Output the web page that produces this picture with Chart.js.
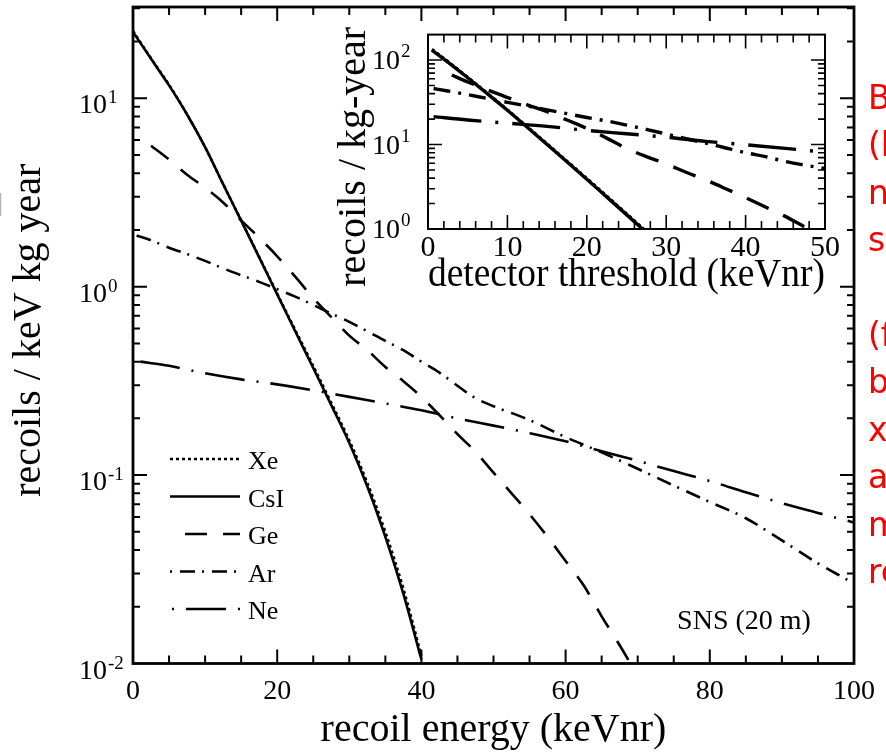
<!DOCTYPE html>
<html>
<head>
<meta charset="utf-8">
<script src="https://cdn.jsdelivr.net/npm/chart.js@4.4.1/dist/chart.umd.min.js"></script>
<style>
  html, body { margin: 0; padding: 0; background: #fff; }
  #wrap { position: relative; width: 886px; height: 754px; overflow: hidden; background: #fff; }
  #main { position: absolute; left: 0; top: 0; }
  #inset { position: absolute; left: 330px; top: 20px; }
</style>
</head>
<body>
<div id="wrap">
  <canvas id="main" width="886" height="754"></canvas>
  <canvas id="inset" width="530" height="290"></canvas>
</div>
<script>
// ---- main panel: recoils / keV kg year vs recoil energy ----
const csiEnergy = [0, 2.5, 5, 7.5, 10, 12.5, 15, 17.5, 20, 22.5, 25, 27.5, 30, 32.5, 35, 37.5, 40];
const csiRate = [22.5, 16.2, 11.7, 8.2, 5.5, 3.5, 2.24, 1.43, 0.91, 0.58, 0.37, 0.235, 0.148, 0.087, 0.047, 0.0234, 0.0105];
const xeEnergy = [0, 2.5, 5, 7.5, 10, 12.5, 15, 17.5, 20, 22.5, 25, 27.5, 30, 32.5, 35, 37.5, 40];
const xeRate = [22.8, 16.3, 11.8, 8.2, 5.5, 3.5, 2.25, 1.44, 0.92, 0.59, 0.38, 0.242, 0.153, 0.091, 0.050, 0.0250, 0.0110];
const geEnergy = [2.5, 5, 7.5, 10, 12.5, 15, 17.5, 20, 22.5, 25, 27.5, 30, 32.5, 35, 37.5, 40, 42.5, 45, 47.5, 50, 52.5, 55, 57.5, 60, 62.5, 65, 67.5, 69];
const geRate = [5.6, 4.73, 3.93, 3.35, 2.8, 2.25, 1.82, 1.45, 1.13, 0.87, 0.69, 0.55, 0.46, 0.375, 0.315, 0.26, 0.208, 0.165, 0.133, 0.103, 0.08, 0.062, 0.047, 0.035, 0.026, 0.0178, 0.0125, 0.0100];
const arEnergy = [0.5, 2.5, 5, 7.5, 10, 12.5, 15, 17.5, 20, 22.5, 25, 27.5, 30, 32.5, 35, 37.5, 40, 42.5, 45, 47.5, 50, 55, 60, 65, 70, 75, 80, 85, 90, 95, 100];
const arRate = [1.87, 1.76, 1.61, 1.49, 1.37, 1.25, 1.15, 1.06, 0.97, 0.885, 0.80, 0.72, 0.65, 0.58, 0.515, 0.46, 0.40, 0.35, 0.298, 0.256, 0.232, 0.196, 0.159, 0.132, 0.108, 0.088, 0.072, 0.059, 0.045, 0.034, 0.0266];
const neEnergy = [1, 5, 10, 15, 20, 25, 30, 35, 40, 45, 50, 55, 60, 65, 70, 75, 80, 85, 90, 95, 100];
const neRate = [0.40, 0.380, 0.347, 0.322, 0.303, 0.282, 0.26, 0.240, 0.221, 0.20, 0.183, 0.167, 0.151, 0.134, 0.119, 0.105, 0.093, 0.081, 0.071, 0.063, 0.056];

const mainXTicks = [0, 20, 40, 60, 80, 100];
const mainYDecades = [-2, -1, 0, 1];

// ---- inset: recoils / kg-year above detector threshold ----
const xeThr = [0.5, 2.5, 5, 7.5, 10, 12.5, 15, 17.5, 20, 22.5, 25, 27.5];
const xeCount = [134, 96, 62.5, 40.3, 25.7, 16.2, 10.2, 6.35, 3.97, 2.46, 1.52, 0.94];
const csiThr = [0.5, 2.5, 5, 7.5, 10, 12.5, 15, 17.5, 20, 22.5, 25, 27.5];
const csiCount = [131, 94.4, 61.7, 39.8, 25.4, 16.0, 10.0, 6.24, 3.89, 2.40, 1.48, 0.91];
const geThr = [3, 5, 7.5, 10, 12.5, 15, 17.5, 20, 22.5, 25, 27.5, 30, 32.5, 35, 37.5, 40, 42.5, 45, 47.5];
const geCount = [66.4, 55, 44.2, 36, 29.5, 24.5, 19.5, 15.5, 11.9, 9.0, 7.2, 5.9, 4.7, 3.8, 3.0, 2.35, 1.82, 1.41, 1.05];
const arThr = [0.7, 2.5, 5, 7.5, 10, 12.5, 15, 17.5, 20, 22.5, 25, 27.5, 30, 32.5, 35, 37.5, 40, 42.5, 45, 47.5, 50];
const arCount = [46, 43, 39, 35, 31.6, 28.6, 25.7, 23.2, 20.9, 19.0, 17, 15.1, 13.3, 11.7, 10.4, 9.1, 8.0, 7.2, 6.3, 5.7, 5.2];
const neThr = [0.7, 5, 10, 15, 20, 25, 30, 35, 40, 45, 50];
const neCount = [21.4, 19.5, 17.9, 16.4, 14.7, 13.4, 12.2, 10.9, 9.95, 9.0, 8.1];

const insetXTicks = [0, 10, 20, 30, 40, 50];
const insetYDecades = [0, 1, 2];

const seriesNames = ['Xe', 'CsI', 'Ge', 'Ar', 'Ne'];
const sideNote = ['B', '(l', 'n', 's', '', '(f', 'b', 'x', 'a', 'm', 're'];

const serif = '"Liberation Serif", "Times New Roman", serif';
Chart.defaults.color = '#000';
Chart.defaults.font.family = serif;

function pts(xs, ys) {
    return xs.map((x, i) => ({ x: x, y: ys[i] }));
}

function curve(label, xs, ys, dash, width) {
    return {
        label: label,
        data: pts(xs, ys),
        borderColor: '#000',
        borderWidth: width,
        borderDash: dash,
        pointRadius: 0,
        fill: false,
        cubicInterpolationMode: 'monotone'
    };
}

// inward ticks, frame and 10^n labels
const axisFrame = {
    id: 'axisFrame',
    afterDatasetsDraw(chart, args, o) {
        const { ctx, chartArea: a } = chart;
        const x = chart.scales.x, y = chart.scales.y;
        ctx.save();
        ctx.strokeStyle = '#000';
        ctx.lineWidth = o.tickWidth;
        ctx.setLineDash([]);
        ctx.beginPath();
        for (let v = x.min + o.xMinor; v < x.max - 1e-6; v += o.xMinor) {
            const px = x.getPixelForValue(v);
            const len = (Math.round(v) % o.xMajor === 0) ? o.majorLen : o.minorLen;
            ctx.moveTo(px, a.bottom); ctx.lineTo(px, a.bottom - len);
            ctx.moveTo(px, a.top); ctx.lineTo(px, a.top + len);
        }
        const e0 = Math.floor(Math.log10(y.min)), e1 = Math.ceil(Math.log10(y.max));
        for (let e = e0; e <= e1; e++) {
            for (let m = 1; m < 10; m++) {
                const v = m * Math.pow(10, e);
                if (v <= y.min * 1.0001 || v >= y.max * 0.9999) continue;
                const py = y.getPixelForValue(v);
                const len = m === 1 ? o.majorLen : o.yMinorLen;
                ctx.moveTo(a.left, py); ctx.lineTo(a.left + len, py);
                ctx.moveTo(a.right, py); ctx.lineTo(a.right - len, py);
            }
        }
        ctx.stroke();
        ctx.lineWidth = o.frameWidth;
        ctx.strokeRect(a.left, a.top, a.right - a.left, a.bottom - a.top);

        ctx.fillStyle = '#000';
        ctx.textBaseline = 'alphabetic';
        o.decades.forEach(d => {
            const py = y.getPixelForValue(Math.pow(10, d));
            ctx.font = o.labelSize + 'px ' + serif;
            ctx.textAlign = 'right';
            ctx.fillText('10', a.left - o.labelGap, py + o.baseShift);
            ctx.font = o.supSize + 'px ' + serif;
            ctx.textAlign = 'left';
            ctx.fillText(String(d), a.left - o.labelGap + 1, py + o.supShift);
        });
        ctx.restore();
    }
};

// legend in lower left, label "SNS (20 m)", cut-off red notes on the right
const mainNotes = {
    id: 'mainNotes',
    afterDraw(chart) {
        const { ctx, chartArea: a } = chart;
        ctx.save();
        const offsets = [0, 0, 23, 22, 50];
        chart.data.datasets.forEach((ds, i) => {
            const ly = 459 + i * 37.5;
            ctx.strokeStyle = '#000';
            ctx.lineWidth = ds.borderWidth;
            ctx.setLineDash(ds.borderDash || []);
            ctx.lineDashOffset = offsets[i];
            ctx.beginPath();
            ctx.moveTo(a.left + 37, ly);
            ctx.lineTo(a.left + 107, ly);
            ctx.stroke();
            ctx.setLineDash([]);
            ctx.fillStyle = '#000';
            ctx.font = '26px ' + serif;
            ctx.textAlign = 'left';
            ctx.textBaseline = 'alphabetic';
            ctx.fillText(ds.label, a.left + 115, ly + 10);
        });

        ctx.font = '28px ' + serif;
        ctx.textAlign = 'center';
        ctx.fillText('SNS (20 m)', a.right - 110, a.bottom - 35);

        ctx.fillStyle = '#ff0000';
        ctx.font = '33px "DejaVu Sans", sans-serif';
        ctx.textAlign = 'left';
        sideNote.forEach((t, i) => {
            if (t) ctx.fillText(t, 868, 109 + i * 47.4);
        });

        ctx.fillStyle = '#b4b4b4';
        ctx.font = '28px ' + serif;
        ctx.fillText(']', -6, 212);
        ctx.restore();
    }
};

new Chart(document.getElementById('main'), {
    type: 'line',
    data: {
        datasets: [
            curve(seriesNames[0], xeEnergy, xeRate, [3, 3], 2.5),
            curve(seriesNames[1], csiEnergy, csiRate, [], 2.6),
            curve(seriesNames[2], geEnergy, geRate, [22, 16], 2.6),
            curve(seriesNames[3], arEnergy, arRate, [15, 7, 2, 8], 2.6),
            curve(seriesNames[4], neEnergy, neRate, [40, 12, 2, 12], 2.6)
        ]
    },
    options: {
        responsive: false,
        animation: false,
        layout: { padding: { left: 0, top: 7, right: 28, bottom: 0 } },
        plugins: {
            legend: { display: false },
            tooltip: { enabled: false },
            axisFrame: {
                tickWidth: 2, frameWidth: 2.8, majorLen: 14, minorLen: 8, yMinorLen: 7,
                xMinor: 5, xMajor: 20, decades: mainYDecades,
                labelSize: 28, supSize: 19, labelGap: 26, baseShift: 15, supShift: 5
            }
        },
        scales: {
            x: {
                type: 'linear', min: 0, max: 100,
                grid: { display: false, drawTicks: false },
                border: { display: false },
                afterBuildTicks: s => { s.ticks = mainXTicks.map(v => ({ value: v })); },
                afterFit: s => { s.height = 90.5; },
                ticks: { font: { size: 28 }, padding: 11, maxRotation: 0, autoSkip: false },
                title: { display: true, text: 'recoil energy (keVnr)', font: { size: 40 }, padding: { top: 0, bottom: 0 } }
            },
            y: {
                type: 'logarithmic', min: 0.01, max: 30.5,
                grid: { display: false, drawTicks: false },
                border: { display: false },
                ticks: { display: false },
                afterFit: s => { s.width = 133; },
                title: { display: true, text: ' recoils / keV kg year', font: { size: 40 }, padding: { top: 5, bottom: 0 } }
            }
        }
    },
    plugins: [axisFrame, mainNotes]
});

new Chart(document.getElementById('inset'), {
    type: 'line',
    data: {
        datasets: [
            curve(seriesNames[0], xeThr, xeCount, [3, 3], 3),
            curve(seriesNames[1], csiThr, csiCount, [], 3.4),
            curve(seriesNames[2], geThr, geCount, [24, 16], 3.4),
            curve(seriesNames[3], arThr, arCount, [17, 8, 3, 8], 3.4),
            curve(seriesNames[4], neThr, neCount, [48, 14, 3, 14], 3.4)
        ]
    },
    options: {
        responsive: false,
        animation: false,
        layout: { padding: { left: 0, top: 14.6, right: 35, bottom: 0 } },
        plugins: {
            legend: { display: false },
            tooltip: { enabled: false },
            axisFrame: {
                tickWidth: 1.6, frameWidth: 2, majorLen: 14, minorLen: 8, yMinorLen: 7,
                xMinor: 2, xMajor: 10, decades: insetYDecades,
                labelSize: 28, supSize: 19, labelGap: 28, baseShift: 9, supShift: -3
            }
        },
        scales: {
            x: {
                type: 'linear', min: 0, max: 50,
                grid: { display: false, drawTicks: false },
                border: { display: false },
                afterBuildTicks: s => { s.ticks = insetXTicks.map(v => ({ value: v })); },
                afterFit: s => { s.height = 81; },
                ticks: { font: { size: 30 }, padding: 1, maxRotation: 0, autoSkip: false },
                title: { display: true, text: 'detector threshold (keVnr)', font: { size: 40 }, padding: { top: 0, bottom: 11 } }
            },
            y: {
                type: 'logarithmic', min: 1, max: 200,
                grid: { display: false, drawTicks: false },
                border: { display: false },
                ticks: { display: false },
                afterFit: s => { s.width = 98; },
                title: { display: true, text: 'recoils / kg-year     ', font: { size: 40 }, padding: { top: 0, bottom: 0 } }
            }
        }
    },
    plugins: [axisFrame]
});
</script>
</body>
</html>
